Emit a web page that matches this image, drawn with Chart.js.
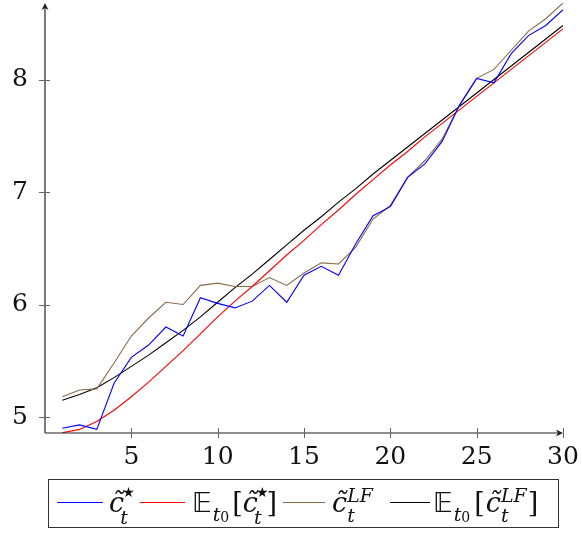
<!DOCTYPE html>
<html>
<head>
<meta charset="utf-8">
<script src="https://cdn.jsdelivr.net/npm/chart.js@4.4.1/dist/chart.umd.min.js"></script>
<style>
  body { margin: 0; background: #fff; }
  #wrap { position: relative; width: 582px; height: 534px; }
  #chart { position: absolute; left: 0; top: 0; }
  #legend {
    position: absolute; left: 48px; top: 479px; width: 509px; height: 47px;
    border: 1.3px solid #333; font-family: 'DejaVu Serif', serif; color: #111; white-space: nowrap;
  }
  .sw { position: absolute; top: 22px; height: 0; border-top: 1.2px solid; }
  .lab { position: absolute; top: -1px; height: 47px; line-height: 47px; font-size: 27px; }
  .c { font-style: italic; }
  .ss { display: inline-flex; flex-direction: column; font-size: 19px; vertical-align: 13px; margin-left: -4px; }
  .ss > * { line-height: 23px; font-style: italic; }
  .ss.lf { vertical-align: 10px; margin-left: 0; }
  .ss.lf > * { line-height: 20px; }
  .star { font-size: 14px; font-style: normal; font-family: 'DejaVu Sans', serif; position: relative; top: -2px; left: 2px; }
  .idx { font-size: 19px; vertical-align: -9px; margin-left: 1px; margin-right: 3px; }
  .idx small { font-size: 14px; vertical-align: -1px; }
  .bb { font-family: 'DejaVu Sans', serif; }
  .br { margin: 0 1px; }
  .tight .br { margin: 0; }
</style>
</head>
<body>
<div id="wrap">
  <canvas id="chart" width="582" height="480"></canvas>
  <div id="legend">
    <span class="sw" style="left:8px;width:46px;border-color:#0000ff"></span>
    <span class="lab" style="left:60px"><span class="c">c̃</span><span class="ss"><span><span class="star">★</span></span><span>t</span></span></span>
    <span class="sw" style="left:91px;width:45px;border-color:#ff0000"></span>
    <span class="lab tight" style="left:143px"><span class="bb">𝔼</span><span class="idx"><i>t</i><small>0</small></span><span class="br">[</span><span class="c">c̃</span><span class="ss"><span><span class="star">★</span></span><span>t</span></span><span class="br">]</span></span>
    <span class="sw" style="left:234px;width:42px;border-color:#8b6a48"></span>
    <span class="lab" style="left:283px"><span class="c">c̃</span><span class="ss lf"><span>LF</span><span>t</span></span></span>
    <span class="sw" style="left:341px;width:40px;border-color:#000000"></span>
    <span class="lab" style="left:384px"><span class="bb">𝔼</span><span class="idx"><i>t</i><small>0</small></span><span class="br">[</span><span class="c">c̃</span><span class="ss lf"><span>LF</span><span>t</span></span><span class="br">]</span></span>
  </div>
</div>
<script>
const periods = [1, 2, 3, 4, 5, 6, 7, 8, 9, 10, 11, 12, 13, 14, 15, 16, 17, 18, 19, 20, 21, 22, 23, 24, 25, 26, 27, 28, 29, 30];

const cStar = [4.90, 4.93, 4.89, 5.30, 5.53, 5.64, 5.80, 5.72, 6.06, 6.01, 5.97, 6.03, 6.17, 6.02, 6.26, 6.34, 6.26, 6.54, 6.79, 6.87,
  7.13, 7.25, 7.45, 7.77, 8.01, 7.97, 8.23, 8.39, 8.48, 8.62];
const expCStar = [4.86, 4.89, 4.96, 5.06, 5.18, 5.31, 5.45, 5.59, 5.74, 5.89, 6.03, 6.16, 6.30, 6.44, 6.57, 6.71, 6.84, 6.98, 7.11, 7.24,
  7.36, 7.49, 7.61, 7.73, 7.85, 7.97, 8.09, 8.21, 8.33, 8.45];
const cLF = [5.18, 5.24, 5.25, 5.48, 5.72, 5.88, 6.02, 6.00, 6.17, 6.19, 6.16, 6.16, 6.24, 6.17, 6.28, 6.37, 6.36, 6.51, 6.76, 6.88,
  7.13, 7.28, 7.47, 7.77, 8.01, 8.09, 8.26, 8.43, 8.54, 8.68];
const expCLF = [5.15, 5.20, 5.26, 5.35, 5.45, 5.55, 5.66, 5.77, 5.89, 6.02, 6.15, 6.27, 6.40, 6.53, 6.66, 6.78, 6.91, 7.03, 7.16, 7.28,
  7.40, 7.52, 7.64, 7.76, 7.88, 8.00, 8.12, 8.24, 8.36, 8.48];

const xTicks = [5, 10, 15, 20, 25, 30];
const yTicks = [5, 6, 7, 8];

function series(values, color) {
  return {
    data: periods.map((p, i) => ({ x: p, y: values[i] })),
    borderColor: color,
    borderWidth: 1.1,
    pointRadius: 0,
    tension: 0,
    fill: false,
  };
}

// axes drawn by hand: lines with arrow heads and ticks across the line
const axisPlugin = {
  id: 'pgfAxes',
  afterDraw(chart) {
    const { ctx, chartArea: a, scales } = chart;
    ctx.save();
    ctx.strokeStyle = '#222';
    ctx.fillStyle = '#222';
    ctx.lineWidth = 1.2;
    ctx.beginPath();
    ctx.moveTo(a.left, a.bottom);
    ctx.lineTo(a.left, a.top + 2);
    ctx.moveTo(a.left, a.bottom);
    ctx.lineTo(a.right - 2, a.bottom);
    ctx.stroke();
    // arrow heads
    ctx.beginPath();
    ctx.moveTo(a.left, a.top);
    ctx.lineTo(a.left - 3.5, a.top + 7);
    ctx.lineTo(a.left, a.top + 5);
    ctx.lineTo(a.left + 3.5, a.top + 7);
    ctx.closePath();
    ctx.fill();
    ctx.beginPath();
    ctx.moveTo(a.right, a.bottom);
    ctx.lineTo(a.right - 7, a.bottom - 3.5);
    ctx.lineTo(a.right - 5, a.bottom);
    ctx.lineTo(a.right - 7, a.bottom + 3.5);
    ctx.closePath();
    ctx.fill();
    // ticks
    ctx.strokeStyle = '#666';
    ctx.lineWidth = 1;
    ctx.beginPath();
    yTicks.forEach((v) => {
      const y = Math.round(scales.y.getPixelForValue(v)) + 0.5;
      ctx.moveTo(a.left - 6, y);
      ctx.lineTo(a.left + 5, y);
    });
    xTicks.forEach((v) => {
      const x = Math.round(scales.x.getPixelForValue(v)) + 0.5;
      ctx.moveTo(x, a.bottom - 5);
      ctx.lineTo(x, a.bottom + 5);
    });
    ctx.stroke();
    ctx.restore();
  },
};

new Chart(document.getElementById('chart'), {
  type: 'line',
  plugins: [axisPlugin],
  data: {
    datasets: [
      series(cStar, '#0000ff'),
      series(expCStar, '#ff0000'),
      series(cLF, '#8b6a48'),
      series(expCLF, '#000000'),
    ],
  },
  options: {
    responsive: false,
    animation: false,
    layout: {
      padding: { top: 3, right: 19, left: 0, bottom: 0 },
    },
    plugins: {
      legend: { display: false },
      tooltip: { enabled: false },
    },
    scales: {
      x: {
        type: 'linear',
        min: 0,
        max: 30,
        grid: { display: false, drawTicks: false },
        border: { display: false },
        afterBuildTicks: (scale) => {
          scale.ticks = xTicks.map((v) => ({ value: v }));
        },
        afterFit: (scale) => {
          scale.height = 47;
          scale.paddingLeft = 0;
          scale.paddingRight = 0;
        },
        ticks: {
          padding: 9,
          maxRotation: 0,
          autoSkip: false,
          color: '#111',
          font: { family: 'DejaVu Serif', size: 25 },
        },
      },
      y: {
        type: 'linear',
        min: 4.858,
        max: 8.68,
        grid: { display: false, drawTicks: false },
        border: { display: false },
        afterBuildTicks: (scale) => {
          scale.ticks = yTicks.map((v) => ({ value: v }));
        },
        afterFit: (scale) => {
          scale.width = 45;
          scale.paddingTop = 0;
          scale.paddingBottom = 0;
        },
        ticks: {
          padding: 17,
          color: '#111',
          font: { family: 'DejaVu Serif', size: 25 },
        },
      },
    },
  },
});
</script>
</body>
</html>
